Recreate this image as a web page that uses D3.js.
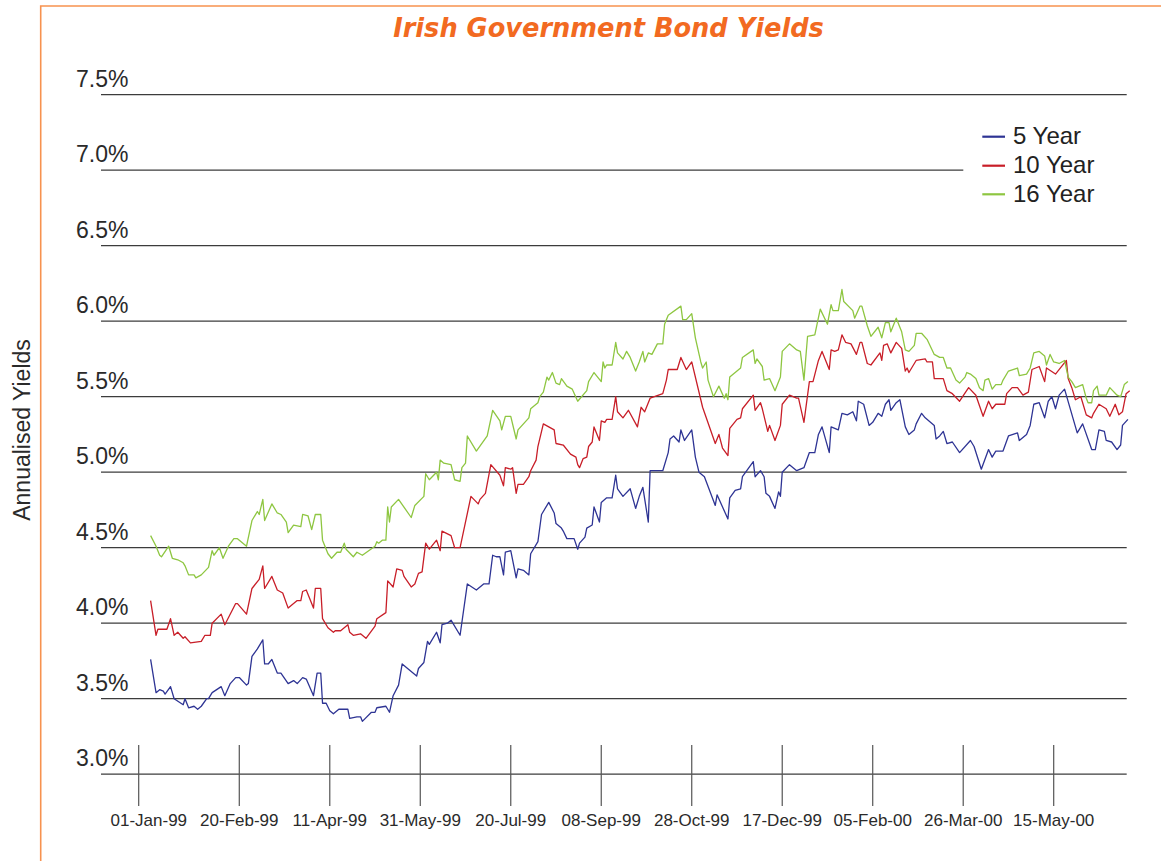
<!DOCTYPE html>
<html><head><meta charset="utf-8">
<script src="https://cdn.jsdelivr.net/npm/d3@7"></script>
<style>html,body{margin:0;padding:0;background:#fff}</style>
</head><body>
<svg id="chart" width="1161" height="861"></svg>
<script>
// ---------- DATA ----------
const chartTitle = "Irish Government Bond Yields";
const yAxisTitle = "Annualised Yields";
const seriesNames = ["5 Year", "10 Year", "16 Year"];
const yTickValues = [3.0, 3.5, 4.0, 4.5, 5.0, 5.5, 6.0, 6.5, 7.0, 7.5];
const yTickLabels = ["3.0%", "3.5%", "4.0%", "4.5%", "5.0%", "5.5%", "6.0%", "6.5%", "7.0%", "7.5%"];
const xTickDates = ["1999-01-01","1999-02-20","1999-04-11","1999-05-31","1999-07-20","1999-09-08","1999-10-28","1999-12-17","2000-02-05","2000-03-26","2000-05-15"];
const xTickLabels = ["01-Jan-99","20-Feb-99","11-Apr-99","31-May-99","20-Jul-99","08-Sep-99","28-Oct-99","17-Dec-99","05-Feb-00","26-Mar-00","15-May-00"];

const dates5 = ["1999-01-02","1999-01-05","1999-01-07","1999-01-09","1999-01-10","1999-01-13","1999-01-15","1999-01-20","1999-01-21","1999-01-23","1999-01-26","1999-01-28","1999-01-30","1999-02-02","1999-02-03","1999-02-05","1999-02-10","1999-02-12","1999-02-15","1999-02-18","1999-02-20","1999-02-24","1999-02-25","1999-02-27","1999-03-02","1999-03-05","1999-03-06","1999-03-08","1999-03-10","1999-03-13","1999-03-15","1999-03-19","1999-03-22","1999-03-24","1999-03-27","1999-03-29","1999-04-02","1999-04-04","1999-04-06","1999-04-07","1999-04-09","1999-04-11","1999-04-13","1999-04-16","1999-04-21","1999-04-22","1999-04-26","1999-04-28","1999-04-29","1999-05-04","1999-05-06","1999-05-07","1999-05-12","1999-05-14","1999-05-16","1999-05-19","1999-05-21","1999-05-24","1999-05-29","1999-05-30","1999-06-02","1999-06-04","1999-06-05","1999-06-09","1999-06-11","1999-06-12","1999-06-15","1999-06-17","1999-06-22","1999-06-26","1999-07-01","1999-07-05","1999-07-08","1999-07-10","1999-07-12","1999-07-14","1999-07-16","1999-07-17","1999-07-20","1999-07-23","1999-07-24","1999-07-27","1999-07-30","1999-07-31","1999-08-04","1999-08-06","1999-08-10","1999-08-13","1999-08-14","1999-08-17","1999-08-18","1999-08-20","1999-08-24","1999-08-26","1999-08-27","1999-08-30","1999-08-31","1999-09-03","1999-09-04","1999-09-07","1999-09-08","1999-09-11","1999-09-14","1999-09-16","1999-09-17","1999-09-20","1999-09-24","1999-09-27","1999-09-29","1999-10-01","1999-10-04","1999-10-05","1999-10-12","1999-10-15","1999-10-16","1999-10-18","1999-10-21","1999-10-22","1999-10-24","1999-10-28","1999-10-30","1999-11-01","1999-11-04","1999-11-10","1999-11-11","1999-11-17","1999-11-18","1999-11-21","1999-11-24","1999-11-25","1999-12-01","1999-12-02","1999-12-05","1999-12-07","1999-12-08","1999-12-10","1999-12-13","1999-12-15","1999-12-16","1999-12-17","1999-12-21","1999-12-25","1999-12-29","2000-01-01","2000-01-04","2000-01-06","2000-01-08","2000-01-12","2000-01-13","2000-01-17","2000-01-19","2000-01-22","2000-01-25","2000-01-27","2000-01-28","2000-01-31","2000-02-03","2000-02-05","2000-02-08","2000-02-10","2000-02-12","2000-02-14","2000-02-15","2000-02-18","2000-02-20","2000-02-23","2000-02-25","2000-02-28","2000-02-29","2000-03-03","2000-03-05","2000-03-10","2000-03-11","2000-03-13","2000-03-15","2000-03-17","2000-03-20","2000-03-24","2000-03-30","2000-04-01","2000-04-05","2000-04-09","2000-04-11","2000-04-13","2000-04-17","2000-04-20","2000-04-25","2000-04-26","2000-04-30","2000-05-02","2000-05-04","2000-05-07","2000-05-10","2000-05-12","2000-05-14","2000-05-16","2000-05-18","2000-05-21","2000-05-28","2000-05-31","2000-06-05","2000-06-07","2000-06-09","2000-06-12","2000-06-13","2000-06-16","2000-06-19","2000-06-21","2000-06-22","2000-06-25"];
const yields5 = [3.76,3.54,3.56,3.55,3.53,3.58,3.50,3.46,3.50,3.44,3.45,3.43,3.45,3.50,3.50,3.54,3.58,3.52,3.60,3.64,3.64,3.59,3.60,3.78,3.83,3.89,3.73,3.73,3.76,3.67,3.67,3.60,3.62,3.60,3.64,3.63,3.52,3.67,3.67,3.47,3.47,3.42,3.40,3.43,3.43,3.37,3.38,3.38,3.35,3.41,3.41,3.44,3.45,3.41,3.52,3.59,3.73,3.70,3.65,3.70,3.74,3.88,3.86,3.94,3.87,3.99,4.00,4.02,3.92,4.26,4.22,4.26,4.26,4.45,4.44,4.44,4.32,4.47,4.48,4.30,4.36,4.35,4.32,4.46,4.54,4.72,4.80,4.73,4.66,4.63,4.61,4.56,4.56,4.49,4.53,4.57,4.63,4.65,4.77,4.67,4.80,4.83,4.83,4.98,4.89,4.84,4.89,4.76,4.84,4.90,4.67,5.01,5.01,5.13,5.22,5.24,5.20,5.28,5.21,5.28,5.10,5.00,4.97,4.78,4.85,4.69,4.83,4.88,4.89,4.97,5.07,4.97,5.01,4.97,4.86,4.84,4.76,4.87,4.84,5.00,5.05,5.01,5.03,5.13,5.13,5.25,5.30,5.13,5.30,5.28,5.39,5.38,5.40,5.34,5.47,5.45,5.31,5.33,5.39,5.37,5.45,5.48,5.41,5.46,5.48,5.30,5.25,5.28,5.32,5.39,5.36,5.31,5.22,5.24,5.27,5.19,5.20,5.13,5.21,5.17,5.02,5.15,5.10,5.14,5.14,5.24,5.26,5.21,5.25,5.31,5.45,5.46,5.36,5.47,5.50,5.42,5.51,5.55,5.26,5.32,5.15,5.15,5.28,5.27,5.21,5.20,5.15,5.18,5.31,5.35];

const dates10 = ["1999-01-02","1999-01-05","1999-01-06","1999-01-11","1999-01-13","1999-01-15","1999-01-17","1999-01-20","1999-01-21","1999-01-24","1999-01-30","1999-02-01","1999-02-04","1999-02-05","1999-02-10","1999-02-12","1999-02-18","1999-02-19","1999-02-24","1999-02-27","1999-03-03","1999-03-05","1999-03-06","1999-03-10","1999-03-13","1999-03-16","1999-03-19","1999-03-24","1999-03-26","1999-03-27","1999-03-29","1999-04-02","1999-04-03","1999-04-06","1999-04-07","1999-04-10","1999-04-13","1999-04-14","1999-04-17","1999-04-21","1999-04-22","1999-04-24","1999-04-28","1999-05-01","1999-05-06","1999-05-07","1999-05-12","1999-05-13","1999-05-16","1999-05-18","1999-05-21","1999-05-22","1999-05-26","1999-05-28","1999-05-30","1999-06-01","1999-06-03","1999-06-05","1999-06-09","1999-06-11","1999-06-12","1999-06-17","1999-06-19","1999-06-22","1999-06-28","1999-07-02","1999-07-03","1999-07-06","1999-07-09","1999-07-14","1999-07-16","1999-07-17","1999-07-20","1999-07-21","1999-07-23","1999-07-24","1999-07-27","1999-07-30","1999-07-31","1999-08-03","1999-08-04","1999-08-07","1999-08-13","1999-08-14","1999-08-18","1999-08-22","1999-08-25","1999-08-26","1999-08-27","1999-08-29","1999-08-31","1999-09-01","1999-09-03","1999-09-04","1999-09-07","1999-09-08","1999-09-10","1999-09-11","1999-09-14","1999-09-16","1999-09-17","1999-09-20","1999-09-23","1999-09-28","1999-09-30","1999-10-02","1999-10-05","1999-10-12","1999-10-14","1999-10-15","1999-10-20","1999-10-22","1999-10-25","1999-10-28","1999-11-03","1999-11-10","1999-11-12","1999-11-14","1999-11-17","1999-11-18","1999-11-22","1999-11-24","1999-11-25","1999-12-01","1999-12-02","1999-12-05","1999-12-06","1999-12-09","1999-12-10","1999-12-13","1999-12-16","1999-12-17","1999-12-21","1999-12-25","1999-12-26","1999-12-29","2000-01-01","2000-01-03","2000-01-06","2000-01-08","2000-01-12","2000-01-13","2000-01-15","2000-01-17","2000-01-19","2000-01-21","2000-01-24","2000-01-27","2000-01-29","2000-01-30","2000-02-02","2000-02-04","2000-02-09","2000-02-10","2000-02-11","2000-02-13","2000-02-15","2000-02-18","2000-02-21","2000-02-23","2000-02-24","2000-02-25","2000-02-29","2000-03-05","2000-03-06","2000-03-09","2000-03-10","2000-03-15","2000-03-17","2000-03-20","2000-03-24","2000-03-29","2000-04-02","2000-04-04","2000-04-06","2000-04-09","2000-04-11","2000-04-13","2000-04-18","2000-04-19","2000-04-22","2000-04-25","2000-04-28","2000-05-01","2000-05-03","2000-05-07","2000-05-10","2000-05-11","2000-05-16","2000-05-22","2000-05-23","2000-05-25","2000-05-27","2000-05-30","2000-06-02","2000-06-05","2000-06-06","2000-06-09","2000-06-13","2000-06-15","2000-06-18","2000-06-20","2000-06-22","2000-06-24","2000-06-26"];
const yields10 = [4.15,3.92,3.96,3.96,4.03,3.92,3.94,3.90,3.91,3.87,3.88,3.92,3.92,4.00,4.06,3.99,4.13,4.13,4.06,4.23,4.29,4.38,4.23,4.31,4.22,4.20,4.10,4.15,4.15,4.21,4.22,4.10,4.23,4.23,4.03,3.97,3.94,3.95,3.95,3.99,3.94,3.92,3.93,3.90,3.98,4.03,4.07,4.28,4.24,4.36,4.35,4.31,4.24,4.26,4.33,4.34,4.53,4.49,4.55,4.48,4.61,4.58,4.50,4.50,4.84,4.79,4.82,4.86,5.05,4.98,4.91,5.03,5.02,5.03,4.86,4.92,4.92,4.97,5.01,5.08,5.17,5.32,5.28,5.19,5.18,5.12,5.10,5.05,5.03,5.09,5.10,5.17,5.20,5.30,5.21,5.34,5.33,5.35,5.35,5.50,5.40,5.36,5.41,5.30,5.43,5.40,5.49,5.52,5.61,5.68,5.68,5.76,5.68,5.73,5.43,5.19,5.25,5.16,5.11,5.29,5.35,5.36,5.42,5.51,5.41,5.46,5.42,5.27,5.31,5.21,5.31,5.45,5.51,5.49,5.49,5.33,5.60,5.60,5.74,5.80,5.68,5.81,5.80,5.81,5.91,5.86,5.85,5.78,5.86,5.86,5.72,5.71,5.79,5.74,5.84,5.85,5.79,5.86,5.82,5.67,5.69,5.66,5.74,5.75,5.73,5.73,5.62,5.62,5.54,5.52,5.47,5.56,5.51,5.44,5.37,5.47,5.42,5.45,5.45,5.52,5.56,5.56,5.51,5.53,5.68,5.70,5.60,5.69,5.65,5.74,5.62,5.56,5.48,5.50,5.38,5.36,5.39,5.45,5.42,5.37,5.45,5.38,5.40,5.52,5.54];

const dates16 = ["1999-01-02","1999-01-05","1999-01-07","1999-01-08","1999-01-12","1999-01-14","1999-01-17","1999-01-20","1999-01-21","1999-01-23","1999-01-26","1999-01-27","1999-01-30","1999-02-03","1999-02-05","1999-02-06","1999-02-09","1999-02-11","1999-02-14","1999-02-17","1999-02-19","1999-02-24","1999-02-27","1999-03-02","1999-03-03","1999-03-05","1999-03-06","1999-03-10","1999-03-13","1999-03-15","1999-03-18","1999-03-19","1999-03-22","1999-03-26","1999-03-27","1999-03-30","1999-04-01","1999-04-03","1999-04-06","1999-04-07","1999-04-10","1999-04-12","1999-04-15","1999-04-17","1999-04-19","1999-04-20","1999-04-24","1999-04-26","1999-04-29","1999-05-06","1999-05-07","1999-05-08","1999-05-10","1999-05-12","1999-05-13","1999-05-14","1999-05-15","1999-05-19","1999-05-26","1999-05-28","1999-06-02","1999-06-03","1999-06-05","1999-06-09","1999-06-10","1999-06-11","1999-06-13","1999-06-17","1999-06-19","1999-06-22","1999-06-23","1999-06-25","1999-06-26","1999-07-01","1999-07-07","1999-07-10","1999-07-14","1999-07-15","1999-07-17","1999-07-20","1999-07-23","1999-07-24","1999-07-30","1999-07-31","1999-08-04","1999-08-05","1999-08-07","1999-08-09","1999-08-10","1999-08-12","1999-08-14","1999-08-16","1999-08-17","1999-08-20","1999-08-23","1999-08-26","1999-08-31","1999-09-01","1999-09-04","1999-09-08","1999-09-09","1999-09-10","1999-09-11","1999-09-14","1999-09-16","1999-09-17","1999-09-20","1999-09-22","1999-09-24","1999-09-27","1999-09-29","1999-10-01","1999-10-02","1999-10-04","1999-10-06","1999-10-09","1999-10-12","1999-10-13","1999-10-15","1999-10-22","1999-10-23","1999-10-25","1999-10-28","1999-10-30","1999-11-02","1999-11-03","1999-11-05","1999-11-06","1999-11-09","1999-11-12","1999-11-15","1999-11-16","1999-11-17","1999-11-18","1999-11-24","1999-11-25","1999-12-01","1999-12-02","1999-12-03","1999-12-06","1999-12-07","1999-12-10","1999-12-13","1999-12-16","1999-12-17","1999-12-21","1999-12-25","1999-12-27","1999-12-29","1999-12-31","2000-01-04","2000-01-07","2000-01-11","2000-01-13","2000-01-14","2000-01-17","2000-01-19","2000-01-20","2000-01-25","2000-01-26","2000-01-29","2000-01-30","2000-02-02","2000-02-04","2000-02-08","2000-02-10","2000-02-12","2000-02-14","2000-02-15","2000-02-18","2000-02-21","2000-02-23","2000-02-25","2000-02-28","2000-02-29","2000-03-03","2000-03-06","2000-03-10","2000-03-13","2000-03-15","2000-03-17","2000-03-19","2000-03-22","2000-03-24","2000-03-27","2000-03-28","2000-03-30","2000-04-02","2000-04-04","2000-04-06","2000-04-07","2000-04-09","2000-04-11","2000-04-13","2000-04-16","2000-04-17","2000-04-20","2000-04-25","2000-04-26","2000-04-30","2000-05-02","2000-05-04","2000-05-07","2000-05-10","2000-05-11","2000-05-13","2000-05-15","2000-05-18","2000-05-21","2000-05-23","2000-05-25","2000-05-27","2000-05-31","2000-06-02","2000-06-03","2000-06-05","2000-06-06","2000-06-08","2000-06-09","2000-06-13","2000-06-15","2000-06-19","2000-06-21","2000-06-23","2000-06-25"];
const yields16 = [4.58,4.51,4.45,4.44,4.51,4.43,4.42,4.40,4.38,4.32,4.32,4.30,4.32,4.37,4.48,4.45,4.50,4.43,4.51,4.56,4.56,4.51,4.68,4.74,4.72,4.82,4.68,4.79,4.73,4.72,4.67,4.60,4.65,4.64,4.72,4.71,4.62,4.72,4.72,4.55,4.46,4.43,4.47,4.47,4.53,4.49,4.44,4.47,4.45,4.51,4.54,4.53,4.55,4.55,4.77,4.67,4.77,4.82,4.70,4.78,4.84,4.99,4.95,5.00,4.95,5.08,5.06,5.05,4.95,4.94,5.03,5.06,5.24,5.14,5.24,5.41,5.34,5.28,5.37,5.37,5.22,5.28,5.36,5.42,5.46,5.50,5.53,5.63,5.61,5.66,5.59,5.58,5.62,5.57,5.55,5.47,5.54,5.60,5.66,5.60,5.73,5.69,5.71,5.71,5.86,5.79,5.75,5.80,5.76,5.67,5.73,5.80,5.73,5.79,5.78,5.85,5.85,5.98,6.04,6.10,6.01,6.01,6.05,5.89,5.73,5.69,5.73,5.61,5.50,5.57,5.49,5.52,5.48,5.63,5.69,5.76,5.81,5.72,5.75,5.70,5.61,5.62,5.54,5.63,5.80,5.85,5.81,5.80,5.61,5.90,5.91,6.08,5.98,6.11,6.07,6.07,6.21,6.13,6.07,6.02,6.10,6.10,5.97,5.90,5.96,5.89,5.99,5.99,5.93,6.02,5.93,5.81,5.80,5.84,5.92,5.92,5.88,5.78,5.76,5.76,5.69,5.69,5.61,5.59,5.63,5.66,5.65,5.62,5.56,5.54,5.61,5.62,5.55,5.58,5.58,5.61,5.67,5.69,5.64,5.65,5.69,5.79,5.80,5.77,5.71,5.78,5.73,5.72,5.74,5.63,5.60,5.56,5.58,5.49,5.46,5.46,5.54,5.57,5.51,5.51,5.56,5.51,5.50,5.58,5.60];

// ---------- DRAWING ----------
const parse = d3.timeParse("%Y-%m-%d");
const svg = d3.select("#chart");
const W = 1161, H = 861;

const colors = { "5 Year": "#2e3494", "10 Year": "#c81e28", "16 Year": "#8ec641" };
const series = [
  { name: seriesNames[0], dates: dates5, values: yields5 },
  { name: seriesNames[1], dates: dates10, values: yields10 },
  { name: seriesNames[2], dates: dates16, values: yields16 }
];

const gridLeft = 101, gridRight = 1126.7, plotLeft = 138.7;
const x = d3.scaleTime()
  .domain([parse(xTickDates[0]), parse(xTickDates[xTickDates.length - 1])])
  .range([148.8, 1053.7]);
const y = d3.scaleLinear().domain([3.0, 7.5]).range([774.2, 94.7]);

// orange frame
svg.append("path")
  .attr("d", `M${W},6 H40.7 V${H}`)
  .attr("fill", "none").attr("stroke", "#f7924f").attr("stroke-width", 1.6);

// title
const title = svg.append("text")
  .attr("x", 608.5).attr("y", 37)
  .attr("text-anchor", "middle")
  .style("font-family", "'DejaVu Sans', Verdana, sans-serif")
  .style("font-weight", "bold").style("font-style", "italic")
  .style("font-size", "22px")
  .attr("fill", "#f26a21")
  .text(chartTitle);
{
  const len = title.node().getComputedTextLength();
  const target = 431;
  title.style("font-size", (22 * target / len).toFixed(2) + "px");
}

// gridlines
const lg = svg.append("g");
yTickValues.forEach((v, i) => {
  const xr = v === 7.0 ? 963.3 : gridRight;
  lg.append("line")
    .attr("x1", gridLeft).attr("x2", xr)
    .attr("y1", y(v)).attr("y2", y(v))
    .attr("stroke", "#3c3c3c").attr("stroke-width", 1.2);
  lg.append("text")
    .attr("x", 128.5).attr("y", y(v) - 8)
    .attr("text-anchor", "end")
    .style("font-family", "'Liberation Sans', Arial, sans-serif")
    .style("font-size", "23px")
    .attr("fill", "#2a2a2a")
    .text(yTickLabels[i]);
});

// x ticks
const xg = svg.append("g");
xTickDates.forEach((ds, i) => {
  const px = x(parse(ds));
  const lx = i === 0 ? plotLeft : px;
  xg.append("line")
    .attr("x1", lx).attr("x2", lx)
    .attr("y1", 745).attr("y2", 806)
    .attr("stroke", "#555").attr("stroke-width", 1.2);
  xg.append("text")
    .attr("x", px).attr("y", 826)
    .attr("text-anchor", "middle")
    .style("font-family", "'Liberation Sans', Arial, sans-serif")
    .style("font-size", "17px")
    .attr("fill", "#2a2a2a")
    .text(xTickLabels[i]);
});

// y axis title
svg.append("text")
  .attr("transform", "translate(30,430) rotate(-90)")
  .attr("text-anchor", "middle")
  .style("font-family", "'Liberation Sans', Arial, sans-serif")
  .style("font-size", "23px")
  .attr("fill", "#2a2a2a")
  .text(yAxisTitle);

// series lines
const line = d3.line().x(d => x(d.date)).y(d => y(d.value));
series.forEach(s => {
  const pts = s.dates.map((d, i) => ({ date: parse(d), value: s.values[i] }));
  svg.append("path")
    .datum(pts)
    .attr("fill", "none")
    .attr("stroke", colors[s.name])
    .attr("stroke-width", 1.3)
    .attr("stroke-linejoin", "round")
    .attr("d", line);
});

// legend
const legY = [136.7, 165.7, 194.3];
seriesNames.forEach((n, i) => {
  svg.append("line")
    .attr("x1", 982.3).attr("x2", 1005)
    .attr("y1", legY[i]).attr("y2", legY[i])
    .attr("stroke", colors[n]).attr("stroke-width", 2.2);
  svg.append("text")
    .attr("x", 1013).attr("y", legY[i] + 7.5)
    .style("font-family", "'Liberation Sans', Arial, sans-serif")
    .style("font-size", "24px")
    .attr("fill", "#222")
    .text(n);
});
</script>
</body></html>
